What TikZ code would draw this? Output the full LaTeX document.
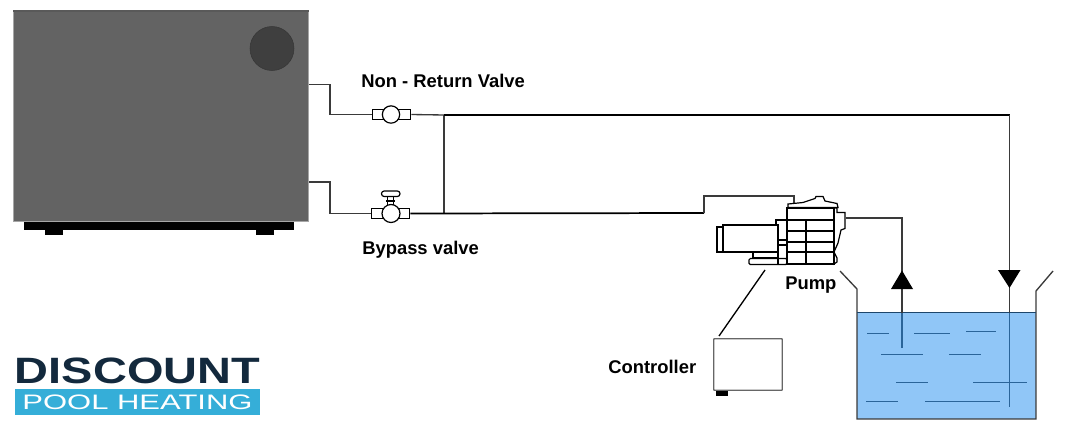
\documentclass[tikz,border=0pt]{standalone}
\usepackage{fontspec}
\setmainfont{Liberation Sans}
\usepackage{tikz}
\definecolor{casing}{HTML}{636363}
\definecolor{fan}{HTML}{3F3F3F}
\definecolor{water}{HTML}{90C6F7}
\definecolor{ripplecol}{HTML}{2A6499}
\definecolor{logonavy}{HTML}{13293D}
\definecolor{logoblue}{HTML}{35AED8}
\definecolor{pipecol}{HTML}{3A3A3A}
\tikzset{
  pipe/.style={draw=pipecol,line width=1pt},
  mainpipe/.style={draw=black,line width=1.3pt},
  part/.style={draw=black,line width=0.9pt,fill=white},
  ripple/.style={draw=ripplecol,line width=1.1pt},
  valveball/.style={circle,draw=black,line width=0.9pt,fill=white,inner sep=0pt,minimum size=13pt},
  valvebody/.style={rectangle,draw=black,line width=0.9pt,fill=white,inner sep=0pt,minimum width=29pt,minimum height=8pt},
  caption/.style={font=\bfseries\fontsize{13.8}{15}\selectfont,inner sep=0pt},
}
\begin{document}
\begin{tikzpicture}[x=0.75pt,y=-0.75pt]
\useasboundingbox (0,0) rectangle (1066,429);

% Heat pump
\fill[black] (24,221) rectangle (294,230);
\fill[black] (45,230) rectangle (63,234.5);
\fill[black] (256,230) rectangle (274,235);
\path[fill=casing,draw=black!35,line width=0.6pt] (13,11) rectangle (308.5,221);
\draw[black!65,line width=0.8pt] (13,11) -- (308.5,11);
\path[fill=fan,draw=fan!85!black,line width=0.4pt] (272,48.5) circle (22);
\coordinate (hotport) at (309,84.5);
\coordinate (coldport) at (309,182);

% Valves
\node[valvebody] (nrvbody) at (391.5,114.5) {};
\node[valveball] (nrv) at (391,114.5) {};
\node[valvebody] (bypassbody) at (390.5,213.5) {};
\path[part] (387.5,196) rectangle (393.5,206);
\draw[black,line width=0.9pt] (386,201) -- (395,201);
\path[part,rounded corners=2pt] (381.5,191) rectangle (400,196.5);
\node[valveball,minimum size=13.5pt] (bypass) at (391,213.5) {};

% Pipes
\coordinate (teetop) at (444,115);
\coordinate (teebot) at (444,213);
\coordinate (returntop) at (1009.5,115);
\coordinate (returnend) at (1009.5,407);
\coordinate (pumpin) at (704,213);
\coordinate (pumptop) at (794,203);
\coordinate (pumpout) at (846,218);
\coordinate (suctionend) at (902,348);
\draw[pipe] (hotport) -- (330,84.5) |- (nrvbody.west);
\draw[pipe] (coldport) -- (330,182) |- (bypassbody.west);
\draw[pipe] (nrvbody.east) -- (teetop);
\draw[pipe] (teetop) -- (teebot);
\draw[mainpipe] (teetop) -- (returntop);
\draw[mainpipe] (bypassbody.east) -- (pumpin);
\draw[pipe] (pumpin) -- (704,196) -| (pumptop);

% Tank
\fill[water] (857,312.5) rectangle (1036,419);
\draw[pipecol,line width=1pt] (840,271) -- (857,289) -- (857,419) -- (1036,419) -- (1036,291) -- (1053,271);
\draw[ripplecol!70!black,line width=1pt] (857,312.5) -- (1036,312.5);
\foreach \xa/\xb/\yy in {867/889/333.5,914/950/333.5,966/996/331.7,881/923/354.3,949/981/354.3,896/928/382.3,973/1027/382.3,866/898/401.3,925/1000/401.3}
  \draw[ripple] (\xa,\yy) -- (\xb,\yy);

% Lines into the tank
\draw[pipe] (returntop) -- (1009.5,312.5);
\draw[ripple] (1009.5,312.5) -- (returnend);
\draw[pipe] (pumpout) -| (902,312.5);
\draw[ripple] (902,312.5) -- (suctionend);
\fill[black] (902,270.5) -- (913,289) -- (891,289) -- cycle;
\fill[black] (1009.5,288) -- (998,270) -- (1020.5,270) -- cycle;

% Pump
\path[part] (717,227) rectangle (723,252);
\path[part,line width=1.1pt] (723,225) rectangle (778,252);
\path[part] (753,252) rectangle (778,258);
\path[part,rounded corners=1pt] (749,258.5) rectangle (787,264.5);
\draw[black,line width=0.9pt] (776,225) -- (776,220) -- (787,220);
\draw[black,line width=0.9pt] (778,240) -- (787,240) (778,245) -- (787,245) (778,245) -- (778,264);
\path[part] (788,207.5) -- (788,204) -- (803,202.5) -- (815,198.5) -- (816,196.5) -- (823,196.5) -- (825,201) -- (837,203.5) -- (838,207.5) -- cycle;
\path[part] (834,208) -- (837,208) -- (837,212.5) -- (845,212.5) -- (845,228.5) -- (841,230) -- (838,243) -- (834,252) -- (837,258) -- (837,262) -- (834,264) -- cycle;
\path[part,line width=1.1pt] (787,208) rectangle (834,264);
\foreach \yy in {220,231,242,252}
  \draw[black,line width=1.1pt] (787,\yy) -- (834,\yy);
\draw[black,line width=1.1pt] (806,220) -- (806,264);

% Controller
\path[fill=black] (716,390) rectangle (728,396);
\path[draw=black!60,line width=1pt,fill=white,rounded corners=0.5pt] (713.7,338.7) rectangle (782.3,390.3);
\coordinate (wiretop) at (765,270);
\coordinate (wirebot) at (719,336);
\draw[black,line width=1pt] (wiretop) -- (wirebot);

% Labels
\node[caption,anchor=west] (nrvlabel) at (361,81) {Non - Return Valve};
\node[caption,anchor=west] (bypasslabel) at (362,250) {Bypass valve};
\node[caption,anchor=west] (pumplabel) at (785,285) {Pump};
\node[caption,anchor=west] (controllerlabel) at (608,367) {Controller};

% Logo
\node[font=\bfseries\fontsize{27.5}{30}\selectfont,text=logonavy,inner sep=0pt,xscale=1.28,transform shape,anchor=center] (logotop) at (137.5,370.5) {DISCOUNT};
\fill[logoblue] (15,389) rectangle (260,415);
\node[font=\fontsize{15.7}{17}\selectfont,text=white,inner sep=0pt,xscale=1.48,transform shape,anchor=center] (logobot) at (137.5,402.5) {POOL HEATING};
\end{tikzpicture}
\end{document}
